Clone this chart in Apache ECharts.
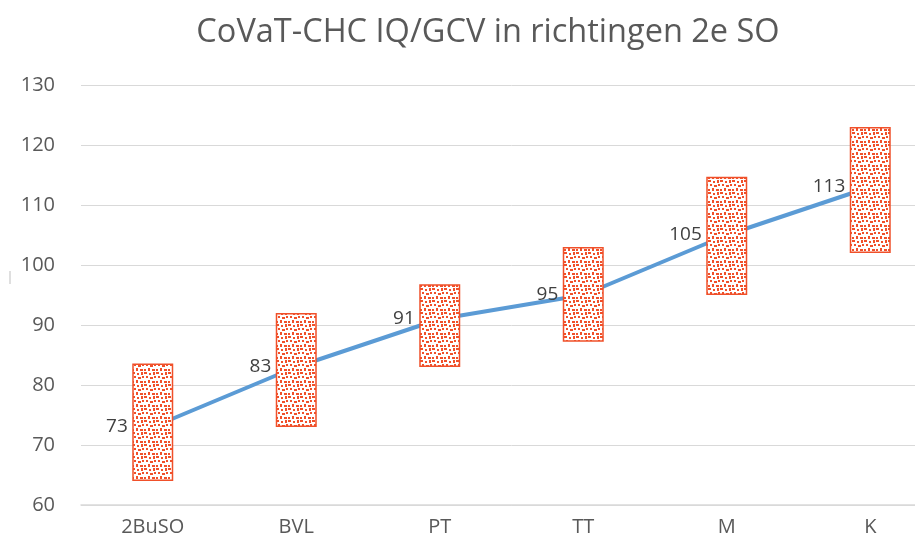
<!DOCTYPE html>
<html>
<head>
<meta charset="utf-8">
<script src="https://cdn.jsdelivr.net/npm/echarts@6/dist/echarts.min.js"></script>
<style>
html,body{margin:0;padding:0;background:#fff;overflow:hidden;width:915px;height:545px;}
#main{width:945px;height:545px;}
</style>
</head>
<body>
<div id="main"></div>
<script>
// Data
var categories = ['2BuSO', 'BVL', 'PT', 'TT', 'M', 'K'];
var scores = [73, 83, 91, 95, 105, 113];
var rangeLow = [64, 73, 83, 87.2, 95, 102];
var rangeHigh = [83.6, 92, 96.8, 103, 114.7, 123];
var yTicks = { min: 60, max: 130, interval: 10 };

var RED = '#F0502A';
var BLUE = '#5B9BD5';

// dotted pattern tile
function makePattern() {
  var c = document.createElement('canvas');
  c.width = 12; c.height = 12;
  var ctx = c.getContext('2d');
  ctx.fillStyle = '#ffffff';
  ctx.fillRect(0, 0, 12, 12);
  ctx.fillStyle = RED;
  var pts = [[0,0,3,2],[5,1,2,2],[9,0,2,3],[2,4,2,2],[6,5,3,2],[10,4,2,2],[4,8,2,3],[8,9,3,2],[0,9,2,2]];
  pts.forEach(function (p) { ctx.fillRect(p[0], p[1], p[2], p[3]); });
  return c;
}

var rangeSize = rangeHigh.map(function (h, i) { return +(h - rangeLow[i]).toFixed(2); });

var FONT = 'Open Sans';
var chart = echarts.init(document.getElementById('main'), null, { renderer: 'canvas' });
chart.setOption({
  animation: false,
  backgroundColor: '#ffffff',
  title: {
    text: 'CoVaT-CHC IQ/GCV in richtingen 2e SO',
    left: 483,
    textAlign: 'center',
    top: 11,
    textStyle: { fontFamily: FONT, fontWeight: 'normal', fontSize: 32.5, color: '#595959' }
  },
  grid: { left: 81, width: 861, top: 85, height: 420, containLabel: false },
  xAxis: {
    type: 'category',
    data: categories,
    axisLine: { lineStyle: { color: '#d9d9d9', width: 1.5 } },
    axisTick: { show: false },
    axisLabel: { color: '#595959', fontSize: 20, fontFamily: FONT, margin: 12 }
  },
  yAxis: {
    type: 'value',
    min: yTicks.min, max: yTicks.max, interval: yTicks.interval,
    axisLine: { show: false },
    axisTick: { show: false },
    splitLine: { lineStyle: { color: '#d9d9d9', width: 1 } },
    axisLabel: { color: '#595959', fontSize: 20, fontFamily: FONT, margin: 26 }
  },
  graphic: [{
    type: 'line', shape: { x1: 10, y1: 271, x2: 10, y2: 284 },
    style: { stroke: '#bfbfbf', lineWidth: 1 }
  }],
  series: [
    {
      name: 'score', type: 'line', data: scores, z: 1,
      symbol: 'circle', symbolSize: 2, showSymbol: true,
      itemStyle: { color: BLUE },
      lineStyle: { color: BLUE, width: 4 },
      label: {
        show: true, position: 'left', distance: 24,
        color: '#404040', fontSize: 19, fontFamily: FONT
      }
    },
    {
      name: 'base', type: 'bar', stack: 'r', data: rangeLow, z: 2,
      barWidth: 41, silent: true,
      itemStyle: { color: 'transparent' }
    },
    {
      name: 'range', type: 'bar', stack: 'r', data: rangeSize, z: 3,
      barWidth: 41,
      itemStyle: {
        color: { image: makePattern(), repeat: 'repeat' },
        borderColor: RED, borderWidth: 1.5
      }
    }
  ]
});
</script>
</body>
</html>
